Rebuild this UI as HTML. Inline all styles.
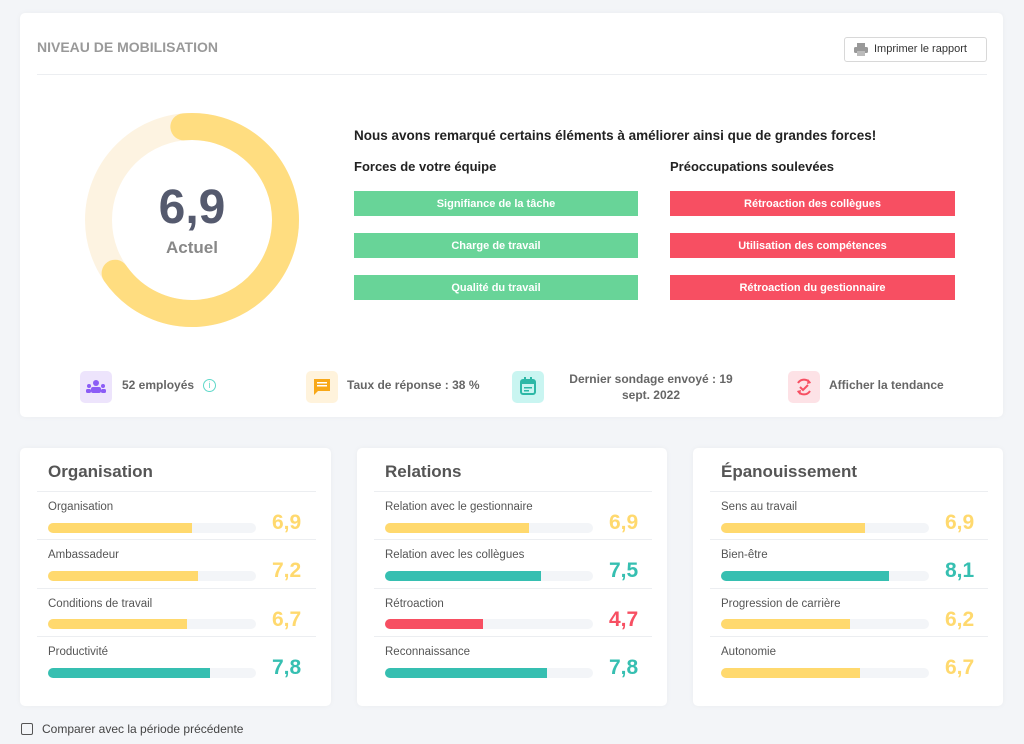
<!DOCTYPE html>
<html><head><meta charset="utf-8"><style>
*{box-sizing:border-box;margin:0;padding:0}
body{width:1024px;height:744px;background:#f3f5f8;font-family:"Liberation Sans",sans-serif;position:relative;overflow:hidden;color:#555}
.abs{position:absolute}
.card{position:absolute;background:#fff;border-radius:5px;box-shadow:0 0 6px rgba(0,0,0,0.04)}
.btn{position:absolute;height:25px;color:#fff;font-size:11px;font-weight:bold;text-align:center;line-height:26px}
.g{background:#68d498}.r{background:#f74f62}
.ic{position:absolute;width:32px;height:32px;border-radius:5px}
.st{position:absolute;font-size:12px;font-weight:bold;color:#666}
.ct{position:absolute;font-size:17px;font-weight:bold;color:#555;left:28px;top:14px}
.hl{position:absolute;left:17px;right:15px;height:1px;background:#eceef1}
.lb{position:absolute;left:28px;font-size:11.5px;color:#555}
.bar{position:absolute;left:28px;width:208px;height:10px;border-radius:5px;background:#f3f5f8;overflow:hidden}
.bar i{display:block;height:100%}
.v{position:absolute;left:252px;font-size:21px;font-weight:bold}
.y{background:#ffd96e}.t{background:#36bfb1}.rr{background:#f74f62}
.cy{color:#ffd96e}.ctl{color:#36bfb1}.cr{color:#f74f62}
</style></head><body>
<div class="card" style="left:20px;top:13px;width:983px;height:404px"></div>
<div class="abs" style="left:37px;top:39px;font-size:14px;font-weight:bold;color:#999">NIVEAU DE MOBILISATION</div>
<div class="abs" style="left:37px;top:74px;width:950px;height:1px;background:#eceef1"></div>
<div class="abs" style="left:844px;top:37px;width:143px;height:25px;border:1px solid #d8d8d8;border-radius:3px;font-size:11px;color:#333;line-height:23px;padding-left:29px">Imprimer le rapport</div>
<svg class="abs" style="left:853px;top:42px" width="16" height="15"><rect x="4" y="1" width="8" height="4" fill="#999"/><rect x="1" y="5" width="14" height="6" rx="1.5" fill="#999"/><rect x="4" y="9" width="8" height="5" fill="#bbb"/></svg>
<svg class="abs" style="left:0;top:0" width="400" height="360">
<circle cx="192" cy="220" r="93.5" fill="none" stroke="#fdf3e1" stroke-width="27"/>
<circle cx="192" cy="220" r="93.5" fill="none" stroke="#ffdd80" stroke-width="27" stroke-linecap="round" stroke-dasharray="392 600" transform="rotate(-95 192 220)"/>
</svg>
<div class="abs" style="left:132px;top:180px;width:120px;text-align:center;font-size:48px;font-weight:bold;color:#555a6e;line-height:56px">6,9</div>
<div class="abs" style="left:132px;top:238px;width:120px;text-align:center;font-size:17px;font-weight:bold;color:#888">Actuel</div>
<div class="abs" style="left:354px;top:128px;font-size:13.5px;font-weight:bold;color:#222">Nous avons remarqué certains éléments à améliorer ainsi que de grandes forces!</div>
<div class="abs" style="left:354px;top:159px;font-size:13px;font-weight:bold;color:#222">Forces de votre équipe</div>
<div class="abs" style="left:670px;top:159px;font-size:13px;font-weight:bold;color:#222">Préoccupations soulevées</div>
<div class="btn g" style="left:354px;top:191px;width:284px">Signifiance de la tâche</div>
<div class="btn g" style="left:354px;top:233px;width:284px">Charge de travail</div>
<div class="btn g" style="left:354px;top:275px;width:284px">Qualité du travail</div>
<div class="btn r" style="left:670px;top:191px;width:285px">Rétroaction des collègues</div>
<div class="btn r" style="left:670px;top:233px;width:285px">Utilisation des compétences</div>
<div class="btn r" style="left:670px;top:275px;width:285px">Rétroaction du gestionnaire</div>
<div class="ic" style="left:80px;top:371px;background:#ede4fc"></div>
<svg class="abs" style="left:85px;top:378px" width="22" height="18"><circle cx="11" cy="5" r="3" fill="#8b5cf6"/><circle cx="4" cy="8" r="2" fill="#8b5cf6"/><circle cx="18" cy="8" r="2" fill="#8b5cf6"/><rect x="6" y="9" width="10" height="6" rx="2" fill="#8b5cf6"/><rect x="1" y="11" width="5" height="4" rx="1.5" fill="#8b5cf6"/><rect x="16" y="11" width="5" height="4" rx="1.5" fill="#8b5cf6"/></svg>
<div class="st" style="left:122px;top:378px">52 employés</div>
<div class="abs" style="left:203px;top:379px;width:13px;height:13px;border:1.5px solid #5fd8c9;border-radius:50%;font-size:9px;color:#5fd8c9;text-align:center;line-height:10px">i</div>
<div class="ic" style="left:306px;top:371px;background:#fff3dc"></div>
<svg class="abs" style="left:312px;top:377px" width="20" height="20"><path d="M2 2h16v12H6l-4 4z" fill="#f8a818"/><rect x="5" y="5" width="10" height="1.5" fill="#fff"/><rect x="5" y="8" width="10" height="1.5" fill="#fff"/></svg>
<div class="st" style="left:347px;top:378px">Taux de réponse : 38 %</div>
<div class="ic" style="left:512px;top:371px;background:#c9f5f1"></div>
<svg class="abs" style="left:518px;top:376px" width="20" height="22"><rect x="3" y="4" width="14" height="14" rx="2" fill="none" stroke="#2cb8a6" stroke-width="2"/><rect x="3" y="4" width="14" height="4" fill="#2cb8a6"/><rect x="6" y="1" width="2" height="4" fill="#2cb8a6"/><rect x="12" y="1" width="2" height="4" fill="#2cb8a6"/><rect x="6" y="11" width="8" height="1.5" fill="#2cb8a6"/><rect x="6" y="14" width="5" height="1.5" fill="#2cb8a6"/></svg>
<div class="st" style="left:562px;top:371px;width:178px;text-align:center;line-height:16px">Dernier sondage envoyé : 19<br>sept. 2022</div>
<div class="ic" style="left:788px;top:371px;background:#fde2e6"></div>
<svg class="abs" style="left:793px;top:376px" width="22" height="22"><path d="M5 7a7 7 0 0 1 12 0" fill="none" stroke="#f74f62" stroke-width="2"/><path d="M17 15a7 7 0 0 1-12 0" fill="none" stroke="#f74f62" stroke-width="2"/><path d="M7 11l3 3 5-5" fill="none" stroke="#f74f62" stroke-width="2"/><path d="M15 3l3 4-4 1z" fill="#f74f62"/><path d="M7 19l-3-4 4-1z" fill="#f74f62"/></svg>
<div class="st" style="left:829px;top:378px">Afficher la tendance</div>

<div class="card" style="left:20px;top:448px;width:311px;height:258px">
<div class="ct">Organisation</div><div class="hl" style="top:43px"></div>
<div class="lb" style="top:53px">Organisation</div><div class="bar" style="top:75px"><i class="y" style="width:69%"></i></div><div class="v cy" style="top:63px">6,9</div><div class="hl" style="top:91px"></div>
<div class="lb" style="top:101px">Ambassadeur</div><div class="bar" style="top:123px"><i class="y" style="width:72%"></i></div><div class="v cy" style="top:111px">7,2</div><div class="hl" style="top:140px"></div>
<div class="lb" style="top:150px">Conditions de travail</div><div class="bar" style="top:171px"><i class="y" style="width:67%"></i></div><div class="v cy" style="top:160px">6,7</div><div class="hl" style="top:188px"></div>
<div class="lb" style="top:198px">Productivité</div><div class="bar" style="top:220px"><i class="t" style="width:78%"></i></div><div class="v ctl" style="top:208px">7,8</div>
</div>
<div class="card" style="left:357px;top:448px;width:310px;height:258px">
<div class="ct">Relations</div><div class="hl" style="top:43px"></div>
<div class="lb" style="top:53px">Relation avec le gestionnaire</div><div class="bar" style="top:75px"><i class="y" style="width:69%"></i></div><div class="v cy" style="top:63px">6,9</div><div class="hl" style="top:91px"></div>
<div class="lb" style="top:101px">Relation avec les collègues</div><div class="bar" style="top:123px"><i class="t" style="width:75%"></i></div><div class="v ctl" style="top:111px">7,5</div><div class="hl" style="top:140px"></div>
<div class="lb" style="top:150px">Rétroaction</div><div class="bar" style="top:171px"><i class="rr" style="width:47%"></i></div><div class="v cr" style="top:160px">4,7</div><div class="hl" style="top:188px"></div>
<div class="lb" style="top:198px">Reconnaissance</div><div class="bar" style="top:220px"><i class="t" style="width:78%"></i></div><div class="v ctl" style="top:208px">7,8</div>
</div>
<div class="card" style="left:693px;top:448px;width:310px;height:258px">
<div class="ct">Épanouissement</div><div class="hl" style="top:43px"></div>
<div class="lb" style="top:53px">Sens au travail</div><div class="bar" style="top:75px"><i class="y" style="width:69%"></i></div><div class="v cy" style="top:63px">6,9</div><div class="hl" style="top:91px"></div>
<div class="lb" style="top:101px">Bien-être</div><div class="bar" style="top:123px"><i class="t" style="width:81%"></i></div><div class="v ctl" style="top:111px">8,1</div><div class="hl" style="top:140px"></div>
<div class="lb" style="top:150px">Progression de carrière</div><div class="bar" style="top:171px"><i class="y" style="width:62%"></i></div><div class="v cy" style="top:160px">6,2</div><div class="hl" style="top:188px"></div>
<div class="lb" style="top:198px">Autonomie</div><div class="bar" style="top:220px"><i class="y" style="width:67%"></i></div><div class="v cy" style="top:208px">6,7</div>
</div>
<div class="abs" style="left:21px;top:723px;width:12px;height:12px;border:1.5px solid #555;border-radius:2px"></div>
<div class="abs" style="left:42px;top:722px;font-size:12px;color:#444">Comparer avec la période précédente</div>
</body></html>
